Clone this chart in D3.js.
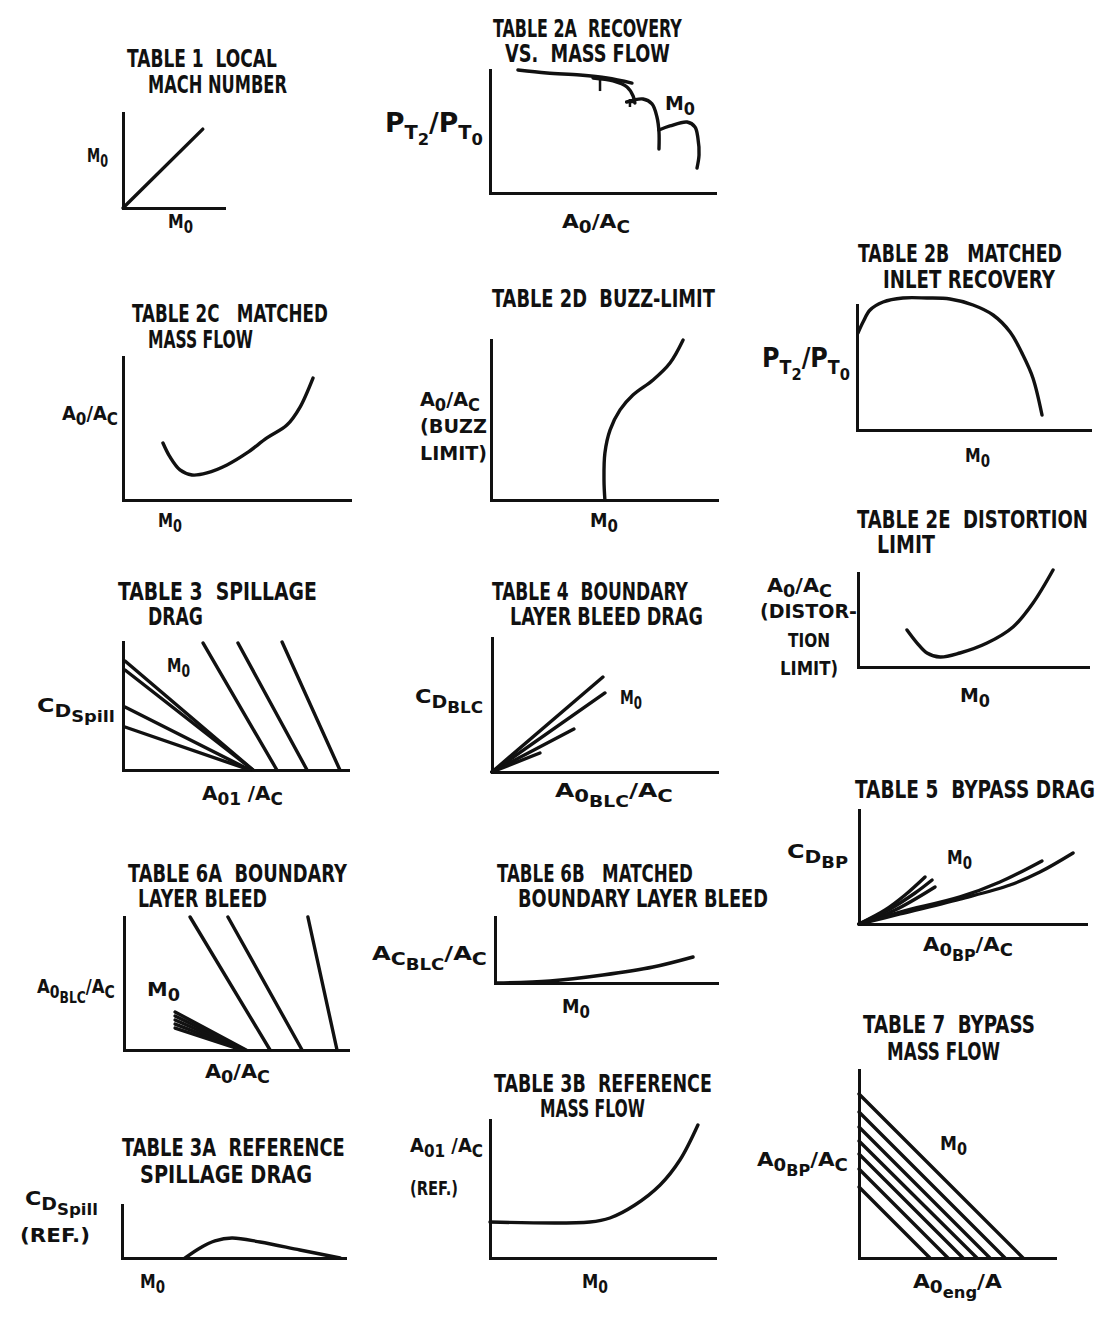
<!DOCTYPE html>
<html>
<head>
<meta charset="utf-8">
<script src="https://cdn.jsdelivr.net/npm/d3@7"></script>
<style>
  html, body { margin: 0; padding: 0; background: #fff; }
  svg text { font-family: 'Liberation Sans Narrow', 'DejaVu Sans Condensed', sans-serif; font-weight: bold; fill: #111; white-space: pre; }
</style>
</head>
<body>
<script>
;(() => {
  // ---- values (each panel scaled 0..100 on both axes) ----
  const t1Curve = [[0, 0], [79, 83]]
  const t2aCurves = [
    [[12.4, 100], [25.3, 97.6], [40, 95.9], [52, 93.5], [63.1, 89.4]],
    [[45.8, 93.5], [54.7, 91.1], [60.9, 86.2], [63.6, 78.9], [64.4, 73.2]],
    [[60.9, 74], [68, 76.4], [72, 72.4], [74.2, 61.8], [75.1, 49.6], [75.1, 35.8]],
    [[75.1, 51.2], [80, 54.5], [87.6, 57.7], [91.1, 53.7], [92.4, 44.7], [92.9, 30.9], [92, 20.3]]
  ]
  const t2aTicks = [
    [[48.9, 92.7], [48.9, 82.9]],
    [[62.2, 76.4], [62.2, 69.9]],
    [[60, 74], [64.9, 74]]
  ]
  const t2bCurve = [[0.4, 77.6], [2.6, 86.4], [5.6, 96], [11.2, 102.4], [19.7, 105.6], [30, 105.6], [39.9, 104.8], [49.8, 100], [58.4, 92], [65.7, 78.4], [71.2, 60], [75.5, 41.6], [79.4, 12]]
  const t2cCurve = [[17.6, 39.9], [20.7, 30.1], [25.1, 21], [30.4, 17.5], [37, 18.9], [45.8, 24.5], [54.6, 32.9], [63.4, 43.4], [72.2, 52.4], [78, 65], [83.7, 85.3]]
  const t2dCurve = [[50.4, 0], [50, 12.5], [50.4, 29.4], [52.7, 43.8], [57.1, 56.3], [62.8, 65.6], [71.7, 75], [79.2, 85.6], [85, 100]]
  const t2eCurve = [[21.3, 39.4], [25.7, 25.5], [30, 14.9], [35.7, 10.6], [44.3, 14.9], [56.1, 25.5], [67.4, 42.6], [76.1, 68.1], [84.8, 103.2]]
  const t3Lines = [
    [[0.9, 85.2], [57.8, 0]], [[0.9, 78.1], [57.8, 0]],
    [[0.9, 49.2], [56.4, 0]], [[0.9, 33.6], [56.4, 0]],
    [[35.6, 99.2], [68.4, 0]], [[51.1, 99.2], [81.8, 0]], [[70.7, 100], [96.4, 0]]
  ]
  const t4Lines = [[[0, 0], [49.3, 70.9]], [[0, 0], [50.2, 59]], [[0, 0], [36.4, 32.1]], [[0, 0], [21.3, 14.2]]]
  const t5Curves = [
    [[0, 0], [11.5, 12.3], [20.3, 25.4], [29.1, 41.2]],
    [[0, 0], [13.7, 13.2], [24.7, 27.2], [32.2, 38.6]],
    [[0, 0], [15.9, 12.3], [33.5, 32.5]],
    [[0, 0], [18.1, 10.5], [44.5, 23.7], [62.1, 36.8], [80.6, 55.3]],
    [[0, 0], [18.1, 8.8], [44.5, 21.9], [66.5, 34.2], [79.7, 45.6], [94.3, 62.3]]
  ]
  const t6aLines = [
    [[29.5, 100], [65.2, 0]], [[46.4, 100], [79.5, 0]], [[82.1, 100], [95.1, 0]],
    [[22.8, 28.6], [54.5, 0]], [[22.8, 25.6], [54, 0]], [[22.8, 22.6], [53.6, 0]],
    [[22.8, 19.5], [53, 0]], [[22.8, 16.5], [52.5, 0]]
  ]
  const t6bCurve = [[0.9, 0], [24.8, 3], [48.6, 12.1], [71.2, 24.2], [89.2, 39.4]]
  const t7Start = [87.2, 77.7, 69.7, 62.2, 55.3, 47.3, 37.8]
  const t7End = [83.7, 74.5, 66.8, 60.2, 53.1, 45.4, 36.2]
  const t3aCurve = [[28.3, 0], [35, 18.9], [41.7, 32.1], [49.3, 37.7], [61.9, 30.2], [79.8, 15.1], [97.8, 0]]
  const t3bCurve = [[0, 26.1], [44.4, 26.1], [53.3, 29], [64.4, 38.4], [75.6, 52.9], [84.4, 71], [92.4, 96.4]]

  // label pieces: [text, level] where level 1 = subscript, 2 = sub-subscript
  const Mo = [['M', 0], ['0', 1]]
  const AoAc = [['A', 0], ['0', 1], ['/', 0], ['A', 0], ['C', 1]]
  const PT = [['P', 0], ['T', 1], ['2', 2], ['/', 0], ['P', 0], ['T', 1], ['0', 2]]
  const CDspill = [['C', 0], ['D', 1], ['Spill', 2]]
  const Ao1Ac = [['A', 0], ['01', 1], [' /', 0], ['A', 0], ['C', 1]]
  const CDblc = [['C', 0], ['D', 1], ['BLC', 2]]
  const AoblcAc = [['A', 0], ['0', 1], ['BLC', 2], ['/', 0], ['A', 0], ['C', 1]]
  const CDbp = [['C', 0], ['D', 1], ['BP', 2]]
  const AobpAc = [['A', 0], ['0', 1], ['BP', 2], ['/', 0], ['A', 0], ['C', 1]]
  const AcblcAc = [['A', 0], ['C', 1], ['BLC', 2], ['/', 0], ['A', 0], ['C', 1]]
  const AoengA = [['A', 0], ['0', 1], ['eng', 2], ['/', 0], ['A', 0]]
  const plain = s => [[s, 0]]

  // panel frames: origin of axes, axis lengths, titles [text, x0, x1, baseline], labels [pieces, x0, x1, baseline, kind]
  const panels = [
    { ox: 123, oy: 208, w: 101, h: 95, lines: [t1Curve], curved: false,
      titles: [['TABLE 1  LOCAL', 127, 277, 67], ['MACH NUMBER', 148, 287, 93]],
      labels: [[Mo, 87, 108, 162], [Mo, 168, 193, 228]] },
    { ox: 490, oy: 193, w: 225, h: 123, lines: t2aCurves, curved: true, extra: t2aTicks,
      titles: [['TABLE 2A  RECOVERY', 493, 682, 37], ['VS.  MASS FLOW', 505, 670, 62]],
      labels: [[PT, 385, 483, 132, 'big'], [AoAc, 562, 630, 228], [Mo, 665, 695, 110]] },
    { ox: 857, oy: 430, w: 233, h: 125, lines: [t2bCurve], curved: true,
      titles: [['TABLE 2B   MATCHED', 858, 1062, 262], ['INLET RECOVERY', 883, 1055, 288]],
      labels: [[PT, 762, 850, 367, 'big'], [Mo, 965, 990, 462]] },
    { ox: 123, oy: 500, w: 227, h: 143, lines: [t2cCurve], curved: true,
      titles: [['TABLE 2C   MATCHED', 132, 328, 322], ['MASS FLOW', 148, 253, 348]],
      labels: [[AoAc, 62, 118, 420], [Mo, 158, 182, 527]] },
    { ox: 491, oy: 500, w: 226, h: 160, lines: [t2dCurve], curved: true,
      titles: [['TABLE 2D  BUZZ-LIMIT', 492, 715, 307]],
      labels: [[AoAc, 420, 480, 406], [plain('(BUZZ'), 420, 487, 433], [plain('LIMIT)'), 420, 487, 460], [Mo, 590, 618, 527]] },
    { ox: 858, oy: 667, w: 230, h: 94, lines: [t2eCurve], curved: true,
      titles: [['TABLE 2E  DISTORTION', 857, 1088, 528], ['LIMIT', 877, 935, 553]],
      labels: [[AoAc, 767, 832, 592], [plain('(DISTOR-'), 760, 857, 618], [plain('TION'), 788, 830, 647], [plain('LIMIT)'), 780, 838, 675], [Mo, 960, 990, 702]] },
    { ox: 123, oy: 770, w: 225, h: 128, lines: t3Lines, curved: false,
      titles: [['TABLE 3  SPILLAGE', 118, 317, 600], ['DRAG', 148, 203, 625]],
      labels: [[CDspill, 37, 115, 712], [Mo, 167, 190, 672], [Ao1Ac, 202, 283, 800]] },
    { ox: 492, oy: 772, w: 225, h: 134, lines: t4Lines, curved: false,
      titles: [['TABLE 4  BOUNDARY', 492, 688, 600], ['LAYER BLEED DRAG', 510, 703, 625]],
      labels: [[CDblc, 415, 483, 703], [Mo, 620, 642, 704], [AoblcAc, 555, 673, 797]] },
    { ox: 859, oy: 924, w: 227, h: 114, lines: t5Curves, curved: true,
      titles: [['TABLE 5  BYPASS DRAG', 855, 1095, 798]],
      labels: [[CDbp, 787, 848, 858], [Mo, 947, 972, 864], [AobpAc, 923, 1013, 951]] },
    { ox: 124, oy: 1050, w: 224, h: 133, lines: t6aLines, curved: false,
      titles: [['TABLE 6A  BOUNDARY', 128, 347, 882], ['LAYER BLEED', 138, 267, 907]],
      labels: [[AoblcAc, 37, 115, 993], [Mo, 147, 180, 996], [AoAc, 205, 270, 1078]] },
    { ox: 495, oy: 983, w: 222, h: 66, lines: [t6bCurve], curved: true,
      titles: [['TABLE 6B   MATCHED', 497, 693, 882], ['BOUNDARY LAYER BLEED', 518, 768, 907]],
      labels: [[AcblcAc, 372, 487, 960], [Mo, 562, 590, 1013]] },
    { ox: 859, oy: 1258, w: 196, h: 188, lines: t7Start.map((s, i) => [[0, s], [t7End[i], 0]]), curved: false,
      titles: [['TABLE 7  BYPASS', 863, 1035, 1033], ['MASS FLOW', 887, 1000, 1060]],
      labels: [[AobpAc, 757, 848, 1166], [Mo, 940, 967, 1150], [AoengA, 913, 1002, 1288]] },
    { ox: 122, oy: 1258, w: 223, h: 53, lines: [t3aCurve], curved: true,
      titles: [['TABLE 3A  REFERENCE', 122, 345, 1156], ['SPILLAGE DRAG', 140, 312, 1183]],
      labels: [[CDspill, 25, 98, 1205], [plain('(REF.)'), 20, 90, 1242], [Mo, 140, 165, 1288]] },
    { ox: 490, oy: 1258, w: 225, h: 138, lines: [t3bCurve], curved: true,
      titles: [['TABLE 3B  REFERENCE', 494, 712, 1092], ['MASS FLOW', 540, 645, 1117]],
      labels: [[Ao1Ac, 410, 483, 1152], [plain('(REF.)'), 410, 458, 1195], [Mo, 582, 608, 1288]] }
  ]

  const svg = d3.select('body').append('svg')
    .attr('width', 1108).attr('height', 1319)

  const sizes = { normal: [20, 17, 15], big: [26, 19, 16], title: [24] }
  const shifts = { normal: [0, 5, 10], big: [0, 7, 13], title: [0] }

  // text with subscripts from tspans, stretched to span x0..x1
  const richText = (segs, x0, x1, by, kind) => {
    const sz = sizes[kind], sh = shifts[kind]
    const t = svg.append('text').attr('x', 0).attr('y', 0)
    let cur = 0
    segs.forEach(([s, lvl]) => {
      t.append('tspan')
        .attr('dy', sh[lvl] - cur)
        .style('font-size', sz[lvl] + 'px')
        .text(s)
      cur = sh[lvl]
    })
    const wNat = t.node().getComputedTextLength() || (x1 - x0)
    t.attr('transform', `translate(${x0},${by}) scale(${(x1 - x0) / wNat},1)`)
  }

  panels.forEach(p => {
    const x = d3.scaleLinear().domain([0, 100]).range([p.ox, p.ox + p.w])
    const y = d3.scaleLinear().domain([0, 100]).range([p.oy, p.oy - p.h])

    // axes with no ticks, only the axis line
    const gx = svg.append('g').attr('transform', `translate(0,${p.oy})`)
      .call(d3.axisBottom(x).ticks(0).tickSizeOuter(0))
    const gy = svg.append('g').attr('transform', `translate(${p.ox},0)`)
      .call(d3.axisLeft(y).ticks(0).tickSizeOuter(0))
    ;[gx, gy].forEach(g => g.select('.domain')
      .attr('stroke', '#111').attr('stroke-width', 3).attr('stroke-linecap', 'square'))

    const line = d3.line()
      .x(d => x(d[0])).y(d => y(d[1]))
      .curve(p.curved ? d3.curveCatmullRom.alpha(0.5) : d3.curveLinear)

    svg.append('g').selectAll('path')
      .data(p.lines).enter().append('path')
      .attr('d', line)
      .attr('fill', 'none').attr('stroke', '#111')
      .attr('stroke-width', 3.4).attr('stroke-linecap', 'round').attr('stroke-linejoin', 'round')

    if (p.extra) {
      const straight = d3.line().x(d => x(d[0])).y(d => y(d[1]))
      svg.append('g').selectAll('path')
        .data(p.extra).enter().append('path')
        .attr('d', straight)
        .attr('fill', 'none').attr('stroke', '#111').attr('stroke-width', 2.5)
    }

    p.titles.forEach(([s, x0, x1, by]) => richText(plain(s), x0, x1, by, 'title'))
    p.labels.forEach(([segs, x0, x1, by, kind]) => richText(segs, x0, x1, by, kind || 'normal'))
  })
})()
</script>
</body>
</html>
